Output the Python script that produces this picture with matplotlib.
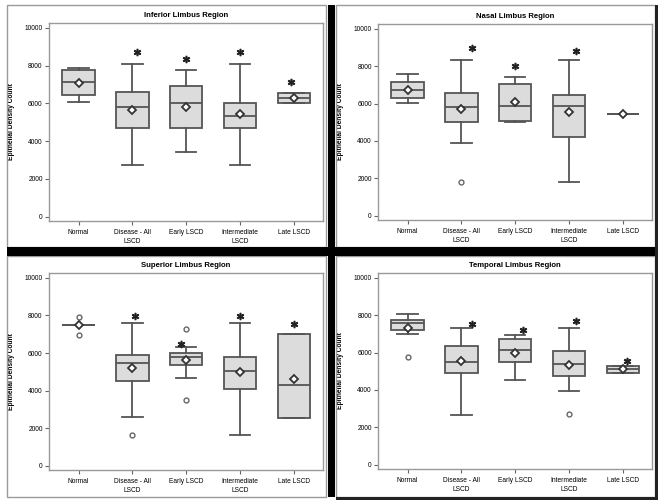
import matplotlib
matplotlib.use("Agg")
import matplotlib.pyplot as plt
from matplotlib.patches import Rectangle

plt.rcParams['font.family'] = ['Liberation Sans', 'DejaVu Sans']

categories = ["Normal", "Disease - All\nLSCD", "Early LSCD", "Intermediate\nLSCD", "Late LSCD"]
y_ticks = [0, 2000, 4000, 6000, 8000, 10000]

# Inferior limbus region
inf_title = "Inferior Limbus Region"
inf_whislo = [6090, 2730, 3400, 2730, 6030]
inf_q1 = [6440, 4680, 4680, 4680, 6030]
inf_med = [7140, 5820, 6030, 5330, 6300]
inf_q3 = [7780, 6620, 6920, 6030, 6560]
inf_whishi = [7880, 8110, 7760, 8110, 6560]
inf_mean = [7060, 5650, 5790, 5430, 6310]
inf_star = [None, 8700, 8330, 8700, 7140]
inf_out = [[], [], [], [], []]

# Nasal limbus region
nas_title = "Nasal Limbus Region"
nas_whislo = [6010, 3870, 4990, 1820, 5440]
nas_q1 = [6290, 4990, 5080, 4230, 5440]
nas_med = [6720, 5830, 5870, 5870, 5440]
nas_q3 = [7170, 6560, 7040, 6470, 5440]
nas_whishi = [7580, 8330, 7400, 8330, 5440]
nas_mean = [6740, 5710, 6100, 5560, 5440]
nas_star = [None, 8950, 8020, 8790, None]
nas_out = [[], [1820], [], [], []]

# Superior limbus region
sup_title = "Superior Limbus Region"
sup_whislo = [7500, 2570, 4670, 1630, 2550]
sup_q1 = [7500, 4510, 5380, 4070, 2550]
sup_med = [7500, 5470, 5790, 5040, 4280]
sup_q3 = [7500, 5910, 6020, 5790, 6990]
sup_whishi = [7500, 7590, 6320, 7590, 6990]
sup_mean = [7470, 5220, 5650, 4990, 4600]
sup_star = [None, 7950, 6460, 7950, 7560]
sup_out = [[7910, 6940], [1630], [7290, 3490], [], []]

# Temporal limbus region
tem_title = "Temporal Limbus Region"
tem_whislo = [6980, 2680, 4530, 3960, 4900]
tem_q1 = [7210, 4900, 5510, 4760, 4900]
tem_med = [7600, 5520, 6150, 5380, 5120]
tem_q3 = [7740, 6360, 6710, 6090, 5290]
tem_whishi = [8080, 7340, 6940, 7340, 5290]
tem_mean = [7340, 5560, 5970, 5350, 5120]
tem_star = [None, 7510, 7210, 7690, 5560]
tem_out = [[5740], [], [], [2720], []]

panels = [
    (inf_title, inf_whislo, inf_q1, inf_med, inf_q3, inf_whishi, inf_mean, inf_star, inf_out),
    (nas_title, nas_whislo, nas_q1, nas_med, nas_q3, nas_whishi, nas_mean, nas_star, nas_out),
    (sup_title, sup_whislo, sup_q1, sup_med, sup_q3, sup_whishi, sup_mean, sup_star, sup_out),
    (tem_title, tem_whislo, tem_q1, tem_med, tem_q3, tem_whishi, tem_mean, tem_star, tem_out),
]
# horizontal shift of the significance asterisks (style)
star_shift = [
    [0, 0.08, 0, 0, -0.05],
    [0, 0.2, 0, 0.13, 0],
    [0, 0.04, -0.1, 0, 0],
    [0, 0.2, 0.15, 0.13, 0.07],
]

W, H = 664, 504
fig = plt.figure(figsize=(W / 100, H / 100), dpi=100)

def fx(x):
    return x / W

def fy(y):
    return 1 - y / H

def rect(x0, y0, x1, y1, **kw):
    fig.patches.append(Rectangle((fx(x0), fy(y1)), fx(x1) - fx(x0), fy(y0) - fy(y1),
                                 transform=fig.transFigure, figure=fig, **kw))

# panel frames
rect(7, 5, 326, 247, fill=False, edgecolor='#9a9a9a', linewidth=1.0)
rect(7, 256, 326, 497, fill=False, edgecolor='#9a9a9a', linewidth=1.0)
rect(336, 5, 655, 247, fill=False, edgecolor='#9a9a9a', linewidth=1.0)
rect(336, 256, 655, 497, fill=False, edgecolor='#9a9a9a', linewidth=1.0)
# black separators
rect(328, 5, 335, 497, facecolor='black', edgecolor='none')
rect(7, 247, 657, 256, facecolor='black', edgecolor='none')
rect(655, 5, 658, 499, facecolor='#222222', edgecolor='none')
rect(336, 497, 658, 500, facecolor='#222222', edgecolor='none')

axes_px = [(49, 23, 323, 221), (378, 24, 652, 220), (49, 273, 323, 470), (378, 273, 652, 469)]

edge = '#555555'
for k, ((x0, y0, x1, y1), p) in enumerate(zip(axes_px, panels)):
    title, wlo, q1, med, q3, whi, mean, star, out = p
    ax = fig.add_axes([fx(x0), fy(y1), fx(x1) - fx(x0), fy(y0) - fy(y1)])
    stats = []
    for i in range(len(categories)):
        stats.append(dict(whislo=wlo[i], q1=q1[i], med=med[i], q3=q3[i], whishi=whi[i],
                          mean=mean[i], fliers=out[i]))
    pos = list(range(1, len(categories) + 1))
    ax.bxp(stats, positions=pos, widths=0.6, patch_artist=True, showmeans=True,
           boxprops=dict(facecolor='#dcdcdc', edgecolor=edge, linewidth=1.3),
           medianprops=dict(color=edge, linewidth=1.3),
           whiskerprops=dict(color=edge, linewidth=1.3),
           capprops=dict(color=edge, linewidth=1.3),
           capwidths=0.38,
           meanprops=dict(marker='D', markerfacecolor='white', markeredgecolor='#333333',
                          markersize=4.5, markeredgewidth=1.3),
           flierprops=dict(marker='o', markerfacecolor='white', markeredgecolor='#666666',
                           markersize=3.5, markeredgewidth=1.0))
    sx = [pp + sh for pp, s, sh in zip(pos, star, star_shift[k]) if s is not None]
    sy = [s for s in star if s is not None]
    ax.plot(sx, sy, linestyle='none', marker='$*$', color='#222222', markersize=4.5)
    ax.set_xlim(0.45, 5.54)
    ax.set_ylim(-230, 10260)
    ax.set_yticks(y_ticks)
    ax.set_yticklabels([str(t) for t in y_ticks])
    ax.set_xticks(pos)
    ax.set_xticklabels(categories, fontsize=4.8, linespacing=1.5)
    ax.tick_params(axis='y', labelsize=4.8, length=3, width=0.8, color='#666666', pad=1.5)
    ax.tick_params(axis='x', length=3, width=0.8, color='#666666', pad=2.5)
    for s in ax.spines.values():
        s.set_color('#999999')
        s.set_linewidth(1.0)
    ax.set_title(title, fontsize=5.6, fontweight='bold', pad=4)
    ax.set_ylabel("Epithelial Density Count", fontsize=4.8, fontweight='bold')
    ax.yaxis.set_label_coords(-34 / 274, 0.5)

fig.savefig("out.png", dpi=100)
